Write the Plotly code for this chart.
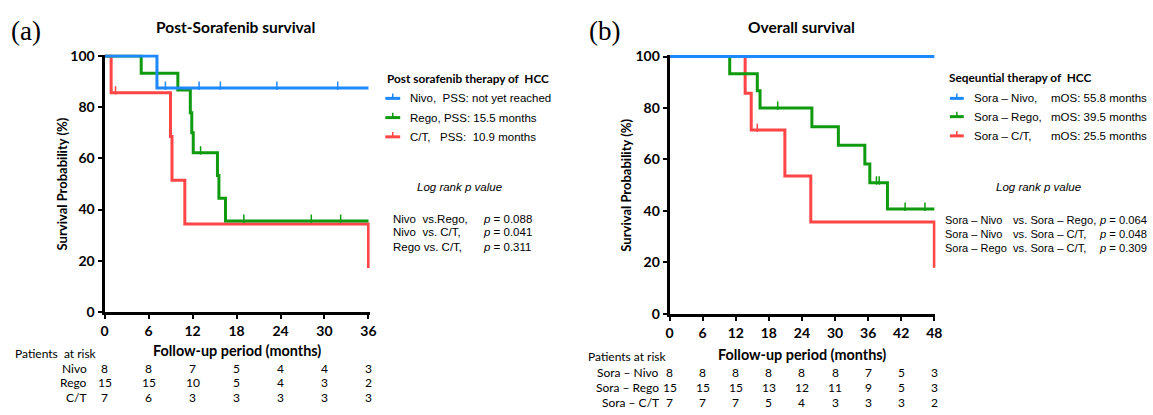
import plotly.graph_objects as go

W, H = 1153, 415

# ---------------- data: panel (a) Post-Sorafenib survival ----------------
A_END = 36
a_nivo_t = [7.15]
a_nivo_s = [87.5]
a_nivo_c = [8.3, 12.9, 15.8, 23.5, 31.8]

a_rego_t = [5.0, 10.0, 11.7, 11.9, 12.1, 15.4, 15.6, 16.5]
a_rego_s = [93.3, 86.7, 77.8, 70.0, 62.2, 53.3, 44.4, 35.5]
a_rego_c = [13.1, 19.0, 28.2, 32.2]

a_ct_t = [0.9, 9.0, 9.2, 10.95, 36.0]
a_ct_s = [85.7, 68.6, 51.4, 34.3, 17.1]
a_ct_c = [1.5]

a_ticks = [0, 6, 12, 18, 24, 30, 36]
a_risk_labels = ["Nivo", "Rego", "C/T"]
a_risk = [[8, 8, 7, 5, 4, 4, 3],
          [15, 15, 10, 5, 4, 3, 2],
          [7, 6, 3, 3, 3, 3, 3]]
a_legend = ["Nivo,\u00a0\u00a0PSS: not yet reached",
            "Rego, PSS: 15.5 months",
            "C/T,\u00a0\u00a0\u00a0PSS:\u00a0\u00a010.9 months"]
a_pairs = ["Nivo\u00a0\u00a0vs.Rego,", "Nivo\u00a0\u00a0vs. C/T,", "Rego vs. C/T,"]
a_pvals = ["0.088", "0.041", "0.311"]

# ---------------- data: panel (b) Overall survival ----------------
B_END = 48
b_nivo_t = []
b_nivo_s = []
b_nivo_c = [12.5, 33.9, 40.0, 40.2, 45.1, 45.9]

b_rego_t = [10.9, 15.9, 16.4, 25.8, 30.6, 35.4, 36.3, 39.5]
b_rego_s = [93.3, 86.7, 80.0, 72.7, 65.5, 58.2, 50.9, 40.7]
b_rego_c = [19.6, 37.5, 38.0, 42.7, 46.3]

b_ct_t = [13.7, 14.8, 20.9, 25.6, 48.0]
b_ct_s = [85.7, 71.4, 53.6, 35.7, 17.9]
b_ct_c = [15.9]

b_ticks = [0, 6, 12, 18, 24, 30, 36, 42, 48]
b_risk_labels = ["Sora \u2013 Nivo", "Sora \u2013 Rego", "Sora \u2013 C/T"]
b_risk = [[8, 8, 8, 8, 8, 8, 7, 5, 3],
          [15, 15, 15, 13, 12, 11, 9, 5, 3],
          [7, 7, 7, 5, 4, 3, 3, 3, 2]]
b_leg_names = ["Sora \u2013 Nivo,", "Sora \u2013 Rego,", "Sora \u2013 C/T,"]
b_leg_mos = ["mOS: 55.8 months", "mOS: 39.5 months", "mOS: 25.5 months"]
b_pairs_l = ["Sora \u2013 Nivo", "Sora \u2013 Nivo", "Sora \u2013 Rego"]
b_pairs_r = ["vs. Sora \u2013 Rego,", "vs. Sora \u2013 C/T,", "vs. Sora \u2013 C/T,"]
b_pvals = ["0.064", "0.048", "0.309"]

BLUE = "#1E88FF"
GREEN = "#0F9A0F"
RED = "#FF4545"
colors = [BLUE, GREEN, RED]

BOLD = "Lato"
ARIAL = "Liberation Sans"
FS = 11.5  # Arial-like text size


def px(x):
    return x / W


def py(y):
    return 1 - y / H


fig = go.Figure()


def step_xy(times, surv, end):
    xs, ys = [0], [100]
    cur = 100
    for t, s in zip(times, surv):
        xs += [t, t]
        ys += [cur, s]
        cur = s
    if not times or times[-1] < end:
        xs.append(end)
        ys.append(cur)
    return xs, ys


def surv_at(times, surv, c):
    cur = 100
    for t, s in zip(times, surv):
        if t <= c:
            cur = s
    return cur


def add_curve(times, surv, cens, end, color, xa, ya, yoff):
    xs, ys = step_xy(times, surv, end)
    fig.add_trace(go.Scatter(x=xs, y=ys, mode="lines", xaxis=xa, yaxis=ya,
                             line=dict(color=color, width=3), showlegend=False,
                             hoverinfo="skip"))
    cy = [surv_at(times, surv, c) + yoff for c in cens]
    fig.add_trace(go.Scatter(x=cens, y=cy, mode="markers", xaxis=xa, yaxis=ya,
                             marker=dict(symbol="line-ns", size=6,
                                         line=dict(color=color, width=1.5)),
                             cliponaxis=False, showlegend=False, hoverinfo="skip"))


add_curve(a_ct_t, a_ct_s, a_ct_c, A_END, RED, "x", "y", 0.9)
add_curve(a_rego_t, a_rego_s, a_rego_c, A_END, GREEN, "x", "y", 0.9)
add_curve(a_nivo_t, a_nivo_s, a_nivo_c, A_END, BLUE, "x", "y", 0.9)

add_curve(b_ct_t, b_ct_s, b_ct_c, B_END, RED, "x2", "y2", 0.9)
add_curve(b_rego_t, b_rego_s, b_rego_c, B_END, GREEN, "x2", "y2", 0.9)
add_curve(b_nivo_t, b_nivo_s, b_nivo_c, B_END, BLUE, "x2", "y2", 0.9)

# axis geometry (pixels)
a_x0, a_x36 = 101.5, 368
a_y0, a_y100 = 316, 50
b_x0, b_x48 = 672, 939.3
b_y0, b_y100 = 318, 50.5

a_xmax = 36.15
a_ymax = 100.6
b_xmax = 48.2
b_ymax = 100.6

a_right = a_x0 + (a_x36 - a_x0) / 36 * a_xmax
a_top = a_y0 - (a_y0 - a_y100) / 100 * a_ymax
b_right = b_x0 + (b_x48 - b_x0) / 48 * b_xmax
b_top = b_y0 - (b_y0 - b_y100) / 100 * b_ymax

axis_common = dict(showgrid=False, zeroline=False, showline=True, linecolor="black",
                   linewidth=3, ticks="outside", tickwidth=2, ticklen=4,
                   tickcolor="black",
                   tickfont=dict(family=BOLD, size=14, color="black", weight="bold"))

fig.update_layout(
    width=W, height=H, margin=dict(l=0, r=0, t=0, b=0),
    paper_bgcolor="white", plot_bgcolor="white",
    xaxis=dict(domain=[px(a_x0), px(a_right)], range=[0, a_xmax], tickvals=a_ticks,
               anchor="y", **axis_common),
    yaxis=dict(domain=[py(a_y0), py(a_top)], range=[0, a_ymax],
               tickvals=[0, 20, 40, 60, 80, 100], anchor="x", **axis_common),
    xaxis2=dict(domain=[px(b_x0), px(b_right)], range=[0, b_xmax], tickvals=b_ticks,
                anchor="y2", **axis_common),
    yaxis2=dict(domain=[py(b_y0), py(b_top)], range=[0, b_ymax],
                tickvals=[0, 20, 40, 60, 80, 100], anchor="x2", **axis_common),
)

ann = []


def text(x, y, s, size=FS, family=ARIAL, xanchor="left", weight="normal",
         italic=False, xref="paper"):
    ann.append(dict(x=x if xref != "paper" else px(x), y=py(y), xref=xref, yref="paper",
                    text=s, showarrow=False, xanchor=xanchor, yanchor="middle",
                    font=dict(family=family, size=size, color="black", weight=weight,
                              style="italic" if italic else "normal")))


# panel labels & titles
text(5, 24, "(a)", size=27, family="Liberation Serif")
text(589, 24, "(b)", size=27, family="Liberation Serif")
text((a_x0 + a_x36) / 2 - 1, 20, "Post-Sorafenib survival", size=15.5, family=BOLD,
     xanchor="center", weight="bold")
text((b_x0 + b_x48) / 2, 20, "Overall survival", size=15.5, family=BOLD,
     xanchor="center", weight="bold")

# axis titles
text((a_x0 + a_x36) / 2, 356.5, "Follow-up period (months)", size=14.4, family=BOLD,
     xanchor="center", weight="bold")
text((b_x0 + b_x48) / 2, 360, "Follow-up period (months)", size=14.4, family=BOLD,
     xanchor="center", weight="bold")
for xx, y0, y1 in [(58, a_y0, a_y100), (628.5, b_y0, b_y100)]:
    ann.append(dict(x=px(xx), y=py((y0 + y1) / 2), xref="paper", yref="paper",
                    text="Survival Probability (%)", showarrow=False, textangle=-90,
                    xanchor="center", yanchor="middle",
                    font=dict(family=BOLD, size=13, color="black", weight="bold")))

# at-risk tables
text(9, 359, "Patients\u00a0\u00a0at risk", size=12, family=BOLD)
a_rows_y = [374.5, 390, 405.5]
for lab, row, yy in zip(a_risk_labels, a_risk, a_rows_y):
    text(86, yy, lab, size=12, family=BOLD, xanchor="right")
    for t, v in zip(a_ticks, row):
        text(t, yy, str(v), size=12, family=BOLD, xanchor="center", xref="x")

text(588, 362.5, "Patients at risk", size=12, family=BOLD)
b_rows_y = [379, 394.5, 410]
for lab, row, yy in zip(b_risk_labels, b_risk, b_rows_y):
    text(663, yy, lab, size=12, family=BOLD, xanchor="right")
    for t, v in zip(b_ticks, row):
        text(t, yy, str(v), size=12, family=BOLD, xanchor="center", xref="x2")

# legends
shapes = []


def sample(x0, x1, y, color):
    shapes.append(dict(type="line", xref="paper", yref="paper", x0=px(x0), x1=px(x1),
                       y0=py(y), y1=py(y), line=dict(color=color, width=3)))
    xm = (x0 + x1) / 2
    shapes.append(dict(type="line", xref="paper", yref="paper", x0=px(xm), x1=px(xm),
                       y0=py(y), y1=py(y - 5), line=dict(color=color, width=1.5)))


text(385, 73, "Post sorafenib therapy of\u00a0\u00a0HCC", size=11.8, family=BOLD, weight="bold")
for i, (lab, yy) in enumerate(zip(a_legend, [94, 114, 134])):
    sample(385, 400, yy, colors[i])
    text(407.5, yy, lab)

text(952.5, 72, "Seqeuntial therapy of\u00a0\u00a0HCC", size=11.8, family=BOLD, weight="bold")
for i, (nm, mos, yy) in enumerate(zip(b_leg_names, b_leg_mos, [94, 113, 133])):
    sample(955, 969, yy, colors[i])
    text(977.5, yy, nm)
    text(1055, yy, mos)

# log rank
text(460, 186, "Log rank p value", size=11.5, xanchor="center", italic=True)
for pr, pv, yy in zip(a_pairs, a_pvals, [219, 233.5, 248.5]):
    text(390.5, yy, pr)
    text(481.5, yy, "<i>p</i> = " + pv)

text(1044, 186, "Log rank p value", size=11.5, xanchor="center", italic=True)
for l, r, pv, yy in zip(b_pairs_l, b_pairs_r, b_pvals, [220, 235, 250]):
    text(948.5, yy, l, size=11)
    text(1016.5, yy, r, size=11.2)
    text(1103.5, yy, "<i>p</i> = " + pv, size=11.2)

fig.update_layout(annotations=ann, shapes=shapes)
fig.write_html("out.html", config={"displayModeBar": False},
               post_script="document.body.style.margin='0';"
                           "document.body.style.overflow='hidden';")
